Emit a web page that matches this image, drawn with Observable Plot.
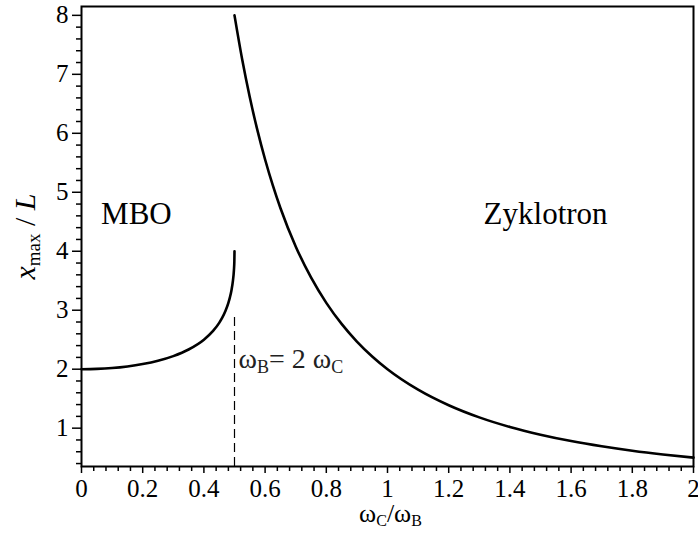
<!DOCTYPE html>
<html><head><meta charset="utf-8">
<script src="https://cdn.jsdelivr.net/npm/d3@7"></script>
<script src="https://cdn.jsdelivr.net/npm/@observablehq/plot@0.6"></script>
<style>html,body{margin:0;padding:0;background:#fff;} svg{display:block}</style>
</head><body><div id="chart"></div>
<script>
// MBO branch
const mboX = [0, 0.05, 0.1, 0.15, 0.2, 0.25, 0.3, 0.35, 0.4, 0.43, 0.45, 0.46, 0.47, 0.48, 0.485, 0.49, 0.495, 0.498, 0.4995, 0.5];
const mboY = [2.0, 2.005, 2.02, 2.047, 2.087, 2.143, 2.222, 2.334, 2.5, 2.649, 2.786, 2.874, 2.982, 3.125, 3.218, 3.336, 3.505, 3.672, 3.829, 4.0];
// Zyklotron branch
const zykX = [0.5, 0.525, 0.55, 0.575, 0.6, 0.625, 0.65, 0.7, 0.75, 0.8, 0.85, 0.9, 0.95, 1.0, 1.1, 1.2, 1.3, 1.4, 1.5, 1.6, 1.7, 1.8, 1.9, 2.0];
const zykY = [8.0, 7.256, 6.612, 6.049, 5.556, 5.12, 4.734, 4.082, 3.556, 3.125, 2.768, 2.469, 2.216, 2.0, 1.653, 1.389, 1.183, 1.02, 0.889, 0.781, 0.692, 0.617, 0.554, 0.5];
// resonance marker
const resonanceX = [0.5];
const resonanceTop = [2.92];
// ticks
const xTicks = [0, 0.2, 0.4, 0.6, 0.8, 1, 1.2, 1.4, 1.6, 1.8, 2];
const xTickLabels = ["0", "0.2", "0.4", "0.6", "0.8", "1", "1.2", "1.4", "1.6", "1.8", "2"];
const yTicks = [1, 2, 3, 4, 5, 6, 7, 8];
const yTickLabels = ["1", "2", "3", "4", "5", "6", "7", "8"];
// labels
const regionLabels = ["MBO", "Zyklotron"];
const resonanceLabel = "ωB= 2 ωC";
const xLabel = "ωC/ωB";
const yLabel = "xmax / L";

const mbo = mboX.map((x, i) => ({x, y: mboY[i]}));
const zyk = zykX.map((x, i) => ({x, y: zykY[i]}));
const xMinor = d3.range(0, 2.0001, 0.04).map(v => +v.toFixed(2)).filter(v => !xTicks.some(t => Math.abs(t - v) < 1e-6));
const yMinor = d3.range(0.4, 8.0001, 0.2).map(v => +v.toFixed(1)).filter(v => !yTicks.some(t => Math.abs(t - v) < 1e-6));

const font = "Liberation Serif";
const plot = Plot.plot({
  width: 698, height: 537,
  marginLeft: 81, marginRight: 5, marginTop: 6, marginBottom: 71,
  x: {domain: [0, 2], label: null},
  y: {domain: [0.35, 8.15], label: null},
  style: {background: "white", color: "black"},
  marks: [
    Plot.ruleX(resonanceX, {x: d => d, y1: 0.35, y2: resonanceTop[0], stroke: "black", strokeWidth: 1.2, strokeDasharray: "9,5"}),
    Plot.line(mbo, {x: "x", y: "y", curve: "monotone-x", stroke: "black", strokeWidth: 2.6}),
    Plot.line(zyk, {x: "x", y: "y", curve: "monotone-x", stroke: "black", strokeWidth: 2.6}),
    Plot.axisX(xMinor, {anchor: "bottom", tickSize: 5, tickFormat: () => "", strokeWidth: 1.5, label: null}),
    Plot.axisX(xTicks, {anchor: "bottom", tickSize: 7, tickPadding: 6, tickFormat: d => xTickLabels[xTicks.indexOf(d)], fontSize: 25, fontFamily: font, strokeWidth: 1.5, label: null}),
    Plot.axisY(yMinor, {anchor: "left", tickSize: 5, tickFormat: () => "", strokeWidth: 1.5, label: null}),
    Plot.axisY(yTicks, {anchor: "left", tickSize: 9, tickPadding: 4, tickFormat: d => yTickLabels[yTicks.indexOf(d)], fontSize: 25, fontFamily: font, strokeWidth: 1.5, label: null}),
    Plot.frame({stroke: "black", strokeWidth: 2}),
    Plot.text([regionLabels[0]], {x: 0.064, y: 4.63, text: d => d, textAnchor: "start", fontSize: 31, fontFamily: font}),
    Plot.text([regionLabels[1]], {x: 1.314, y: 4.63, text: d => d, textAnchor: "start", fontSize: 31, fontFamily: font}),
    Plot.text([resonanceLabel], {x: 0.513, y: 2.17, text: d => d, textAnchor: "start", fontSize: 28, fontFamily: font, fill: "#222"}),
    Plot.text([xLabel], {frameAnchor: "bottom", dy: 47, dx: 3, text: d => d, textAnchor: "middle", lineAnchor: "middle", fontSize: 26, fontFamily: font}),
    Plot.text([yLabel], {frameAnchor: "left", dx: -56, rotate: -90, text: d => d, textAnchor: "middle", lineAnchor: "middle", fontSize: 30, fontFamily: font})
  ]
});

const svg = d3.select(plot);
svg.attr("font-family", font);
svg.selectAll("text").attr("font-family", font);
function rich(str, parts) {
  svg.selectAll("text").filter(function () { return this.textContent === str; }).each(function () {
    const t = d3.select(this);
    t.text(null);
    parts.forEach(p => {
      const ts = t.append("tspan").text(p.t);
      if (p.style) ts.attr("font-style", p.style);
      if (p.size) ts.attr("font-size", p.size);
      if (p.dy) ts.attr("dy", p.dy);
    });
  });
}
rich(yLabel, [
  {t: "x", style: "italic"},
  {t: "max", size: 19, dy: 5},
  {t: " / ", dy: -5},
  {t: "L", style: "italic"}
]);
rich(xLabel, [
  {t: "ω"}, {t: "C", size: 16, dy: 4}, {t: "/", dy: -4}, {t: "ω"}, {t: "B", size: 16, dy: 4}
]);
rich(resonanceLabel, [
  {t: "ω"}, {t: "B", size: 18, dy: 5}, {t: "= 2 ω", dy: -5}, {t: "C", size: 18, dy: 5}
]);

document.getElementById("chart").appendChild(plot);
</script>
</body></html>
